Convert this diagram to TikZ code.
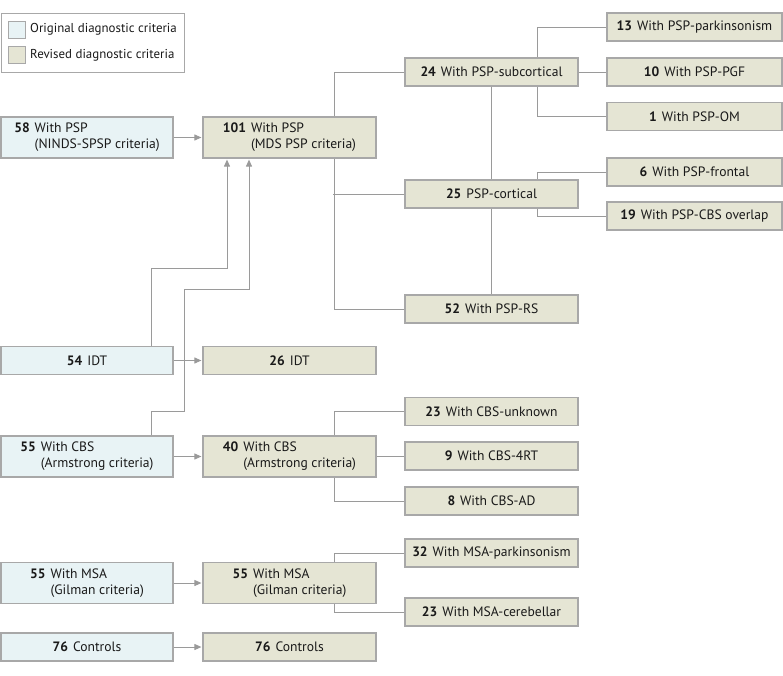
\documentclass[tikz,border=0pt]{standalone}
\usepackage{fontspec}
\setmainfont{PT Sans}
\usetikzlibrary{arrows.meta}
\definecolor{origfill}{HTML}{E8F3F5}
\definecolor{revfill}{HTML}{E5E5D4}
\definecolor{boxline}{HTML}{A8A8A8}
\definecolor{conline}{HTML}{9A9A9A}
\newcommand{\onel}[2]{\textbf{#1}\hspace{5pt}#2}
\newcommand{\twol}[3]{\begin{tabular}{@{}l@{\hspace{5pt}}l@{}}\textbf{#1}&#2\\&#3\end{tabular}}
\tikzset{
  base/.style={draw=boxline, line width=1.2pt, rectangle, inner sep=0pt, font=\fontsize{13.6}{16}\selectfont, text=black!90},
  orig/.style={base, fill=origfill},
  rev/.style={base, fill=revfill},
  w1/.style={minimum width=172pt},
  w2/.style={minimum width=173pt},
  w4/.style={minimum width=175pt},
  tall/.style={minimum height=41pt},
  short/.style={minimum height=28pt},
  con/.style={draw=conline, line width=1pt},
  arr/.style={con, -{Triangle[length=7pt,width=6pt]}, shorten >=1pt},
  swatch/.style={draw=boxline, line width=1pt, minimum width=17pt, minimum height=17pt, inner sep=0pt},
  legtext/.style={anchor=west, font=\fontsize{12.9}{15}\selectfont, text=black!90, inner sep=0pt}
}
\begin{document}
\begin{tikzpicture}[x=1pt,y=-1pt]
\useasboundingbox (0,0) rectangle (783,675);
% legend
\node[draw=boxline, line width=1pt, minimum width=183pt, minimum height=59pt, inner sep=0pt] (leg) at (92.5,42.5) {};
\node[swatch, fill=origfill] (sw1) at (16.5,29.5) {};
\node[swatch, fill=revfill] (sw2) at (16.5,55) {};
\node[legtext] (lt1) at (30,29.5) {Original diagnostic criteria};
\node[legtext] (lt2) at (30,55) {Revised diagnostic criteria};
% left column
\node[orig,w1,tall] (n58) at (87,137.5) {\twol{58}{With PSP}{(NINDS-SPSP criteria)}};
\node[orig,w1,short] (idt54) at (87,360.5) {\onel{54}{IDT}};
\node[orig,w1,tall] (cbs55) at (87,456.5) {\twol{55}{With CBS}{(Armstrong criteria)}};
\node[orig,w1,tall] (msa55) at (87,583) {\twol{55}{With MSA}{(Gilman criteria)}};
\node[orig,w1,short] (c76) at (87,647) {\onel{76}{Controls}};
% middle column
\node[rev,w2,tall] (n101) at (289.5,137.5) {\twol{101}{With PSP}{(MDS PSP criteria)}};
\node[rev,w2,short] (idt26) at (289.5,360.5) {\onel{26}{IDT}};
\node[rev,w2,tall] (cbs40) at (289.5,456.5) {\twol{40}{With CBS}{(Armstrong criteria)}};
\node[rev,w2,tall] (msar) at (289.5,583) {\twol{55}{With MSA}{(Gilman criteria)}};
\node[rev,w2,short] (c76r) at (289.5,647) {\onel{76}{Controls}};
% third column
\node[rev,w2,short] (sub24) at (491.5,72) {\onel{24}{With PSP-subcortical}};
\node[rev,w2,short] (cort25) at (491.5,194) {\onel{25}{PSP-cortical}};
\node[rev,w2,short] (rs52) at (491.5,309) {\onel{52}{With PSP-RS}};
\node[rev,w2,short] (u23) at (491.5,411.5) {\onel{23}{With CBS-unknown}};
\node[rev,w2,short] (r9) at (491.5,456) {\onel{9}{With CBS-4RT}};
\node[rev,w2,short] (ad8) at (491.5,501) {\onel{8}{With CBS-AD}};
\node[rev,w2,short] (mp32) at (491.5,553) {\onel{32}{With MSA-parkinsonism}};
\node[rev,w2,short] (mc23) at (491.5,612) {\onel{23}{With MSA-cerebellar}};
% fourth column
\node[rev,w4,short] (p13) at (694.5,27) {\onel{13}{With PSP-parkinsonism}};
\node[rev,w4,short] (p10) at (694.5,72) {\onel{10}{With PSP-PGF}};
\node[rev,w4,short] (p1) at (694.5,116.5) {\onel{1}{With PSP-OM}};
\node[rev,w4,short] (f6) at (694.5,172) {\onel{6}{With PSP-frontal}};
\node[rev,w4,short] (o19) at (694.5,216) {\onel{19}{With PSP-CBS overlap}};
% horizontal arrows
\draw[arr] (n58.east) -- (n101.west);
\draw[arr] (idt54.east) -- (idt26.west);
\draw[arr] (cbs55.east) -- (cbs40.west);
\draw[arr] (msa55.east) -- (msar.west);
\draw[arr] (c76.east) -- (c76r.west);
% upward arrows into 101
\draw[arr] ([xshift=64pt]idt54.north) -- ++(0,-77) -| ([xshift=-62.5pt]n101.south);
\draw[arr] ([xshift=64pt]cbs55.north) -- ++(0,-24) -- ++(33,0) -- ++(0,-122) -| ([xshift=-40.5pt]n101.south);
% PSP tree
\draw[con] (sub24.west) -| ([xshift=44.5pt]n101.north);
\draw[con] (rs52.west) -| ([xshift=44.5pt]n101.south);
\draw[con] (cort25.west) -- ++(-71,0);
\draw[con] (sub24.south) -- (cort25.north);
\draw[con] (cort25.south) -- (rs52.north);
\draw[con] (sub24.east) -- (p10.west);
\draw[con] (p13.west) -| ([xshift=45.5pt]sub24.north);
\draw[con] (p1.west) -| ([xshift=45.5pt]sub24.south);
\draw[con] (f6.west) -| ([xshift=45.5pt]cort25.north);
\draw[con] (o19.west) -| ([xshift=45.5pt]cort25.south);
% CBS tree
\draw[con] (u23.west) -| ([xshift=44.5pt]cbs40.north);
\draw[con] (r9.west) -- (r9.west -| cbs40.east);
\draw[con] (ad8.west) -| ([xshift=44.5pt]cbs40.south);
% MSA tree
\draw[con] (mp32.west) -| ([xshift=44.5pt]msar.north);
\draw[con] (mc23.west) -| ([xshift=44.5pt]msar.south);
\end{tikzpicture}
\end{document}
